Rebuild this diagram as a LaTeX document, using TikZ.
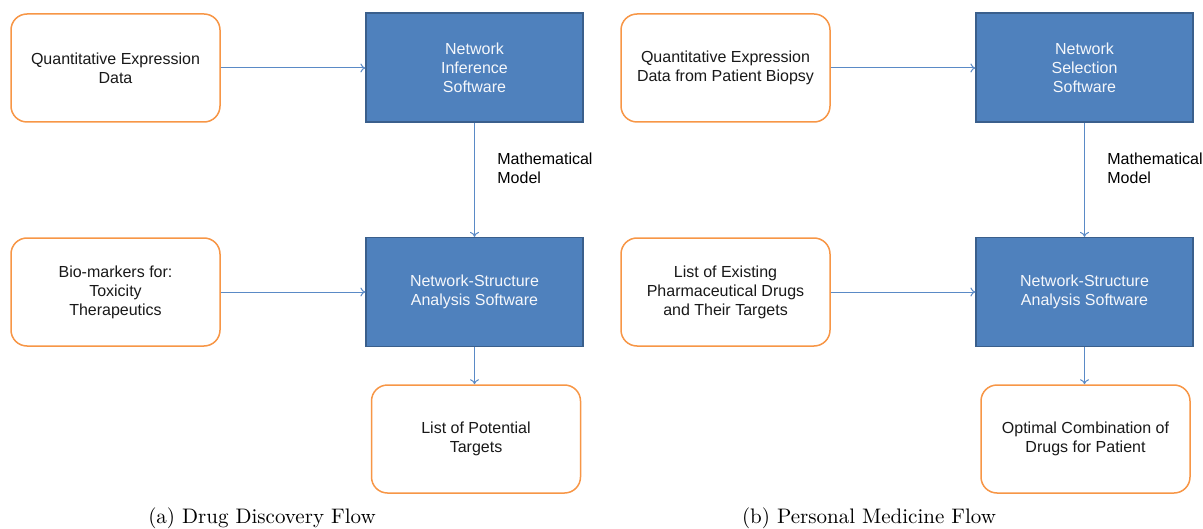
\documentclass[tikz,border=0pt]{standalone}
\usepackage{fontspec}
\newfontfamily\arial{Liberation Sans}
\usetikzlibrary{arrows.meta}
\definecolor{oorange}{HTML}{F79646}
\definecolor{bfill}{HTML}{4F81BD}
\definecolor{bdraw}{HTML}{3A5F8C}
\definecolor{arr}{HTML}{5A8AC6}
\begin{document}
\begin{tikzpicture}[x=0.5pt,y=-0.5pt,
  obox/.style={draw=oorange, line width=0.75pt, rounded corners=8pt, fill=white,
    minimum width=104.5pt, minimum height=54pt, align=center, inner sep=2pt,
    font=\arial\fontsize{8}{9.5}\selectfont, text=black!90},
  bbox/.style={draw=bdraw, line width=0.6pt, fill=bfill,
    minimum width=108.5pt, minimum height=54.5pt, align=center, inner sep=2pt,
    font=\arial\fontsize{8}{9.5}\selectfont, text=white!94!bfill},
  conn/.style={draw=arr, line width=0.5pt, -{To[length=2.5pt,width=4.5pt]}},
  lbl/.style={anchor=west, align=left, inner sep=0pt, font=\arial\fontsize{8}{9.5}\selectfont},
  captext/.style={inner sep=0pt, font=\fontsize{10.5}{12}\selectfont}]
\useasboundingbox (0,0) rectangle (1203,529);
% left panel
\node[obox] (a1) at (115.5,68) {Quantitative Expression\\Data};
\node[bbox] (b1) at (474.5,67.5) {Network\\Inference\\Software};
\node[obox] (a2) at (115.5,292) {Bio-markers for:\\Toxicity\\Therapeutics};
\node[bbox] (b2) at (474.5,292) {Network-Structure\\Analysis Software};
\node[obox] (c1) at (476,439) {List of Potential\\Targets};
\node[lbl] (m1) at (497,168) {Mathematical\\Model};
\draw[conn] (a1.east) -- (b1.west |- a1.east);
\draw[conn] (b1.south) -- (b2.north);
\draw[conn] (a2.east) -- (b2.west |- a2.east);
\draw[conn] (b2.south) -- (b2.south |- c1.north);
\node[captext] (capa) at (262,518) {(a) Drug Discovery Flow};
% right panel
\node[obox] (a3) at (725.5,68) {Quantitative Expression\\Data from Patient Biopsy};
\node[bbox] (b3) at (1084.5,67.5) {Network\\Selection\\Software};
\node[obox] (a4) at (725.5,292) {List of Existing\\Pharmaceutical Drugs\\and Their Targets};
\node[bbox] (b4) at (1084.5,292) {Network-Structure\\Analysis Software};
\node[obox] (c2) at (1085.5,439) {Optimal Combination of\\Drugs for Patient};
\node[lbl] (m2) at (1107,168) {Mathematical\\Model};
\draw[conn] (a3.east) -- (b3.west |- a3.east);
\draw[conn] (b3.south) -- (b4.north);
\draw[conn] (a4.east) -- (b4.west |- a4.east);
\draw[conn] (b4.south) -- (b4.south |- c2.north);
\node[captext] (capb) at (869,518) {(b) Personal Medicine Flow};
\end{tikzpicture}
\end{document}
